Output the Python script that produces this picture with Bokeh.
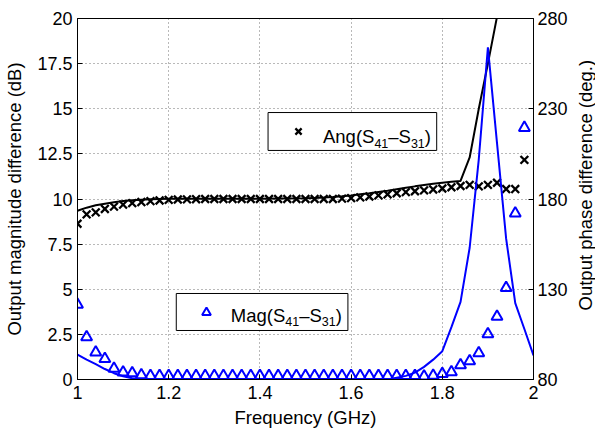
from bokeh.plotting import figure
from bokeh.layouts import row
from bokeh.models import (Range1d, LinearAxis, FixedTicker, CustomJSTickFormatter,
                          Legend, LegendItem, Label, BoxAnnotation)
from bokeh.embed import file_html
from bokeh.resources import INLINE

# ---------------- data ----------------
# measured points (markers)
freq_meas = [1.00, 1.02, 1.04, 1.06, 1.08, 1.10, 1.12, 1.14, 1.16, 1.18,
             1.20, 1.22, 1.24, 1.26, 1.28, 1.30, 1.32, 1.34, 1.36, 1.38,
             1.40, 1.42, 1.44, 1.46, 1.48, 1.50, 1.52, 1.54, 1.56, 1.58,
             1.60, 1.62, 1.64, 1.66, 1.68, 1.70, 1.72, 1.74, 1.76, 1.78,
             1.80, 1.82, 1.84, 1.86, 1.88, 1.90, 1.92, 1.94, 1.96, 1.98]
mag_meas = [4.15, 2.35, 1.50, 1.15, 0.60, 0.40, 0.35, 0.25, 0.20, 0.20,
            0.20, 0.20, 0.20, 0.20, 0.20, 0.20, 0.20, 0.20, 0.20, 0.20,
            0.20, 0.20, 0.20, 0.20, 0.20, 0.20, 0.20, 0.20, 0.20, 0.20,
            0.20, 0.20, 0.20, 0.20, 0.20, 0.20, 0.20, 0.20, 0.17, 0.22,
            0.31, 0.41, 0.80, 1.02, 1.46, 2.52, 3.48, 5.08, 9.20, 13.95]
phase_meas = [166.3, 171.5, 172.6, 174.5, 175.8, 176.9, 177.7, 178.3, 178.8, 179.2,
              179.5, 179.7, 179.8, 179.9, 180.0, 180.0, 180.0, 180.0, 180.0, 180.0,
              180.0, 180.0, 180.0, 180.0, 180.0, 180.0, 180.0, 180.0, 180.0, 180.2,
              180.5, 180.9, 181.4, 182.0, 182.6, 183.2, 183.8, 184.3, 184.8, 185.3,
              185.8, 186.5, 187.2, 187.8, 187.0, 187.8, 189.0, 185.5, 185.5, 201.7]

# simulated curves (lines)
freq_sim = [1.00, 1.02, 1.04, 1.06, 1.08, 1.10, 1.12, 1.14, 1.16, 1.18,
            1.20, 1.22, 1.24, 1.26, 1.28, 1.30, 1.32, 1.34, 1.36, 1.38,
            1.40, 1.42, 1.44, 1.46, 1.48, 1.50, 1.52, 1.54, 1.56, 1.58,
            1.60, 1.62, 1.64, 1.66, 1.68, 1.70, 1.72, 1.74, 1.76, 1.78,
            1.80, 1.82, 1.84, 1.86, 1.88, 1.90, 1.92, 1.94, 1.96, 1.98, 2.00]
mag_sim = [1.38, 1.10, 0.85, 0.58, 0.35, 0.18, 0.07, 0.02, 0.0, 0.0,
           0.0, 0.0, 0.0, 0.0, 0.0, 0.0, 0.0, 0.0, 0.0, 0.0,
           0.0, 0.0, 0.0, 0.0, 0.0, 0.0, 0.0, 0.0, 0.0, 0.0,
           0.0, 0.0, 0.0, 0.0, 0.0, 0.10, 0.20, 0.38, 0.70, 1.10,
           1.57, 2.90, 4.30, 7.30, 12.2, 18.4, 13.1, 7.80, 4.23, 2.80, 1.33]
freq_sim_ph = [1.00, 1.02, 1.04, 1.06, 1.08, 1.10, 1.12, 1.14, 1.16, 1.18,
               1.20, 1.30, 1.40, 1.50, 1.52, 1.54, 1.56, 1.58,
               1.60, 1.62, 1.64, 1.66, 1.68, 1.70, 1.72, 1.74, 1.76, 1.78,
               1.80, 1.82, 1.84, 1.86, 1.88, 1.90, 1.92, 1.94]
phase_sim = [173.5, 175.2, 176.5, 177.4, 178.2, 178.9, 179.3, 179.6, 179.8, 180.0,
             180.1, 180.2, 180.2, 180.4, 180.6, 180.8, 181.1, 181.5,
             182.0, 182.6, 183.2, 183.9, 184.6, 185.4, 186.2, 187.0, 187.7, 188.4,
             189.0, 189.5, 190.0, 203.0, 230.0, 255.0, 281.0, 308.0]

x_ticks = [1, 1.2, 1.4, 1.6, 1.8, 2]
mag_ticks = [0, 2.5, 5, 7.5, 10, 12.5, 15, 17.5, 20]
phase_ticks = [80, 130, 180, 230, 280]

# legend text pieces: (text, is_subscript)
ang_label = [("Ang(S", False), ("41", True), ("\u2013S", False), ("31", True), (")", False)]
mag_label = [("Mag(S", False), ("41", True), ("\u2013S", False), ("31", True), (")", False)]

FONT = "Liberation Sans"
BLUE = "#0000ff"
TICK_FS = "18px"
TITLE_FS = "18.5px"

p = figure(width=570, height=430, output_backend="svg", toolbar_location=None,
           x_range=Range1d(1, 2), y_range=Range1d(0, 20),
           min_border_left=77, min_border_right=36, min_border_top=18,
           min_border_bottom=51)
p.extra_y_ranges = {"phase": Range1d(80, 280)}
p.outline_line_color = "black"
p.outline_line_width = 1
p.outline_line_alpha = 1
p.background_fill_color = "white"
p.border_fill_color = "white"

p.xaxis.ticker = FixedTicker(ticks=x_ticks)
p.yaxis.ticker = FixedTicker(ticks=mag_ticks)
p.xaxis.formatter = CustomJSTickFormatter(code="return tick.toString()")
p.yaxis.formatter = CustomJSTickFormatter(code="return tick.toString()")
p.xaxis.axis_label = "Frequency (GHz)"
p.yaxis.axis_label = "Output magnitude difference (dB)"

right = LinearAxis(y_range_name="phase", ticker=FixedTicker(ticks=phase_ticks))
p.add_layout(right, "right")

for ax in [p.xaxis[0], p.yaxis[0], right]:
    ax.axis_line_color = "black"
    ax.axis_line_width = 1
    ax.major_tick_in = 5
    ax.major_tick_out = 0
    ax.major_tick_line_color = "black"
    ax.minor_tick_line_color = None
    ax.major_label_text_font = FONT
    ax.major_label_text_font_size = TICK_FS
    ax.major_label_text_color = "black"
    ax.axis_label_text_font = FONT
    ax.axis_label_text_font_size = TITLE_FS
    ax.axis_label_text_font_style = "normal"
    ax.axis_label_text_color = "black"

p.xaxis.major_label_standoff = 6
p.xaxis.axis_label_standoff = 5
p.yaxis.major_label_standoff = 5
p.yaxis.axis_label_standoff = 9
right.major_label_standoff = 4

p.xgrid.ticker = FixedTicker(ticks=x_ticks)
p.ygrid.ticker = FixedTicker(ticks=mag_ticks)
for g in [p.xgrid[0], p.ygrid[0]]:
    g.grid_line_color = "black"
    g.grid_line_alpha = 0.55
    g.grid_line_dash = "1 3"
    g.grid_line_width = 1

r_ph_line = p.line(freq_sim_ph, phase_sim, y_range_name="phase",
                   line_color="black", line_width=2)
r_ph = p.scatter(freq_meas, phase_meas, y_range_name="phase", marker="x",
                 size=11, line_color="black", line_width=2.3)
r_mag_line = p.line(freq_sim, mag_sim, line_color=BLUE, line_width=2)
r_mag = p.scatter(freq_meas, mag_meas, marker="triangle", size=11,
                  line_color=BLUE, fill_color=None, line_width=2)

# legend boxes (data units)
for l, r, b, t in [(1.4179, 1.7877, 12.69, 14.79), (1.2166, 1.5930, 2.715, 4.765)]:
    p.add_layout(BoxAnnotation(left=l, right=r, bottom=b, top=t,
                               fill_color="white", fill_alpha=1,
                               line_color="black", line_width=1, line_alpha=1))


def make_legend(rend, loc, h):
    return Legend(items=[LegendItem(label="\u00a0", renderers=[rend])],
                  location=loc, orientation="vertical",
                  border_line_color=None,
                  background_fill_alpha=0,
                  padding=0, spacing=0, margin=0,
                  glyph_width=60, glyph_height=h,
                  label_height=h, label_width=20, label_standoff=0,
                  label_text_font=FONT, label_text_font_size="16px",
                  label_text_color="black")


p.add_layout(make_legend(r_ph, (191, 237), 22), "center")
p.add_layout(make_legend(r_mag, (99, 56), 22), "center")

# legend texts with real subscripts (Arial/Liberation advance widths in em)
ADV = {"A": 0.667, "n": 0.556, "g": 0.556, "(": 0.333, "S": 0.667, "M": 0.833,
       "a": 0.556, "\u2013": 0.556, ")": 0.333, "1": 0.556, "3": 0.556, "4": 0.556}
MAIN_PX = 18.5
SUB_PX = 12.5


def add_text(pieces, x0, y_base, y_sub):
    off = 0.0
    for txt, sub in pieces:
        fs = SUB_PX if sub else MAIN_PX
        p.add_layout(Label(x=x0, y=(y_sub if sub else y_base), x_offset=off,
                           text=txt, text_font=FONT,
                           text_font_size=f"{fs}px", text_color="black",
                           text_baseline="alphabetic", text_align="left"))
        off += sum(ADV.get(c, 0.556) for c in txt) * fs


# anchors in data units (x in GHz, y in dB)
add_text(ang_label, 1.5383, 13.46, 13.10)
add_text(mag_label, 1.3363, 3.55, 3.21)

# narrow strip to the right carrying the right-hand axis title (bottom-to-top)
p2 = figure(width=25, height=430, output_backend="svg", toolbar_location=None,
            x_range=Range1d(0, 25), y_range=Range1d(0, 430), min_border=0,
            x_axis_type=None, y_axis_type=None, outline_line_color=None)
p2.border_fill_color = "white"
p2.background_fill_color = "white"
p2.add_layout(Label(x=15, y=231.5, text="Output phase difference (deg.)",
                    angle=90, angle_units="deg", text_align="center",
                    text_baseline="middle", text_font=FONT,
                    text_font_size=TITLE_FS, text_color="black"))

layout = row(p, p2)
open("out.html", "w").write(file_html(layout, INLINE))
